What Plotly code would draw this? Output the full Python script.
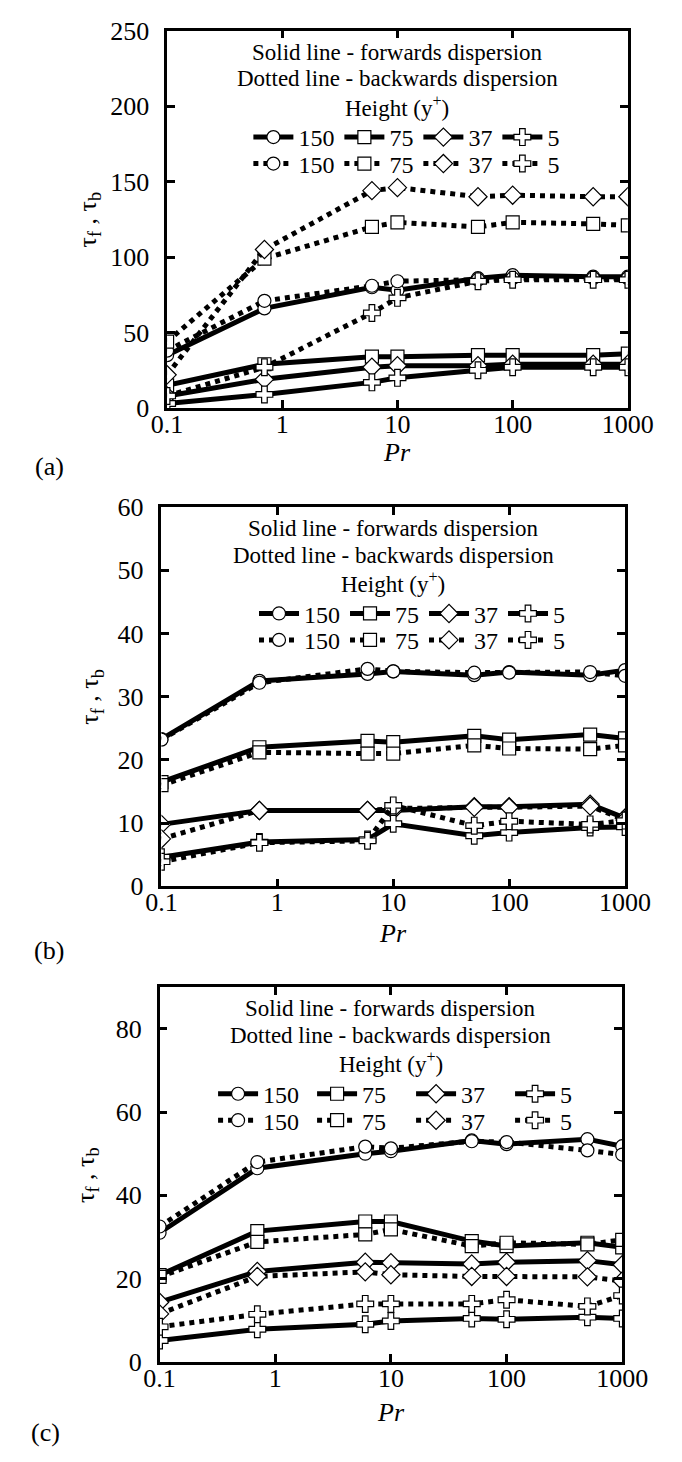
import plotly.graph_objects as go

# ---------------- data ----------------
PR = [0.1, 0.7, 6, 10, 50, 100, 500, 1000]
HEIGHTS = ["150", "75", "37", "5"]
X_TICKS = [0.1, 1, 10, 100, 1000]
X_TICKTEXT = ["0.1", "1", "10", "100", "1000"]

# panel (a)
a_fwd_150 = [35, 66, 80, 78, 86, 88, 87, 87]
a_fwd_75 = [15, 29, 34, 34, 35, 35, 35, 36]
a_fwd_37 = [8, 19, 27, 28, 28, 29, 29, 29]
a_fwd_5 = [3, 9, 17, 20, 25, 27, 27, 27]
a_bwd_150 = [38, 71, 81, 84, 85, 86, 86, 86]
a_bwd_75 = [44, 99, 120, 123, 120, 123, 122, 121]
a_bwd_37 = [22, 105, 144, 146, 140, 141, 140, 140]
a_bwd_5 = [8, 27, 63, 73, 84, 85, 85, 85]

# panel (b)
b_fwd_150 = [23.3, 32.5, 33.6, 34.0, 33.4, 33.9, 33.4, 34.2]
b_fwd_75 = [16.5, 22.0, 23.0, 22.8, 23.8, 23.2, 24.0, 23.4]
b_fwd_37 = [9.8, 12.0, 12.0, 12.0, 12.6, 12.6, 13.0, 10.8]
b_fwd_5 = [4.6, 7.0, 7.4, 9.9, 8.0, 8.5, 9.3, 9.4]
b_bwd_150 = [23.2, 32.2, 34.4, 34.0, 33.8, 33.8, 33.9, 33.3]
b_bwd_75 = [16.0, 21.2, 21.0, 21.0, 22.3, 21.8, 21.7, 22.3]
b_bwd_37 = [7.5, 12.0, 12.0, 12.3, 12.5, 12.5, 12.7, 10.5]
b_bwd_5 = [3.9, 6.9, 7.2, 12.8, 9.6, 10.3, 9.8, 10.4]

# panel (c)
c_fwd_150 = [31.0, 46.5, 50.0, 50.6, 53.2, 52.3, 53.5, 51.8]
c_fwd_75 = [20.8, 31.4, 33.7, 33.7, 29.0, 27.8, 28.6, 27.5]
c_fwd_37 = [14.3, 21.7, 23.9, 23.8, 23.5, 23.9, 24.3, 23.3]
c_fwd_5 = [5.1, 7.8, 9.0, 9.8, 10.4, 10.2, 10.7, 10.4]
c_bwd_150 = [32.5, 48.0, 51.7, 51.3, 53.0, 52.8, 50.8, 49.8]
c_bwd_75 = [20.4, 28.8, 30.6, 31.8, 27.8, 28.6, 28.2, 29.3]
c_bwd_37 = [11.5, 20.5, 21.6, 20.9, 20.5, 20.5, 20.4, 19.4]
c_bwd_5 = [8.4, 11.4, 13.9, 13.9, 13.9, 14.9, 13.3, 15.9]

# ---------------- styling ----------------
W, H = 682, 1462
FONT = "Liberation Serif"
SYMBOLS = ["circle", "square", "diamond", "cross"]
MSIZE = [13, 13, 14, 14]

# panel boxes in pixels: (left, right, top, bottom)
BOXES = [(161, 652, 17, 402), (155, 649, 503, 890), (153, 646, 993, 1375)]
YRANGES = [[0, 250], [0, 60], [0, 90]]
YTICKS = [[0, 50, 100, 150, 200, 250], [0, 10, 20, 30, 40, 50, 60], [0, 20, 40, 60, 80]]
PANEL_LABELS = ["(a)", "(b)", "(c)"]
PANEL_LABEL_POS = [(36, 462), (35, 955), (31, 1447)]
PR_TITLE_Y = [447, 938, 1427]
YTITLE_X = [78, 80, 75]
TEXT_OFFSETS = [22, 49, 77]      # px below top of box for the three text lines
LEGEND_OFFSETS = [109, 136]      # px below top of box for legend rows
LEGEND_CENTERS = [416, 422, 421]
LEGEND_ENTRYWIDTH = [0, 0, 44]

panels = [
    ([a_fwd_150, a_fwd_75, a_fwd_37, a_fwd_5], [a_bwd_150, a_bwd_75, a_bwd_37, a_bwd_5]),
    ([b_fwd_150, b_fwd_75, b_fwd_37, b_fwd_5], [b_bwd_150, b_bwd_75, b_bwd_37, b_bwd_5]),
    ([c_fwd_150, c_fwd_75, c_fwd_37, c_fwd_5], [c_bwd_150, c_bwd_75, c_bwd_37, c_bwd_5]),
]


def px_x(p):
    return p / W


def px_y(p):
    return 1 - p / H


fig = go.Figure()
layout = dict(
    width=W, height=H, autosize=False,
    margin=dict(l=0, r=0, t=0, b=0),
    paper_bgcolor="white", plot_bgcolor="white",
    font=dict(family=FONT, size=26, color="black"),
    showlegend=True,
)
annotations = []

for i, (fwd, bwd) in enumerate(panels):
    n = "" if i == 0 else str(i + 1)
    xa, ya = "x" + n, "y" + n
    leg_solid = "legend" if i == 0 else "legend" + str(2 * i + 1)
    leg_dot = "legend" + str(2 * i + 2)

    for k, h in enumerate(HEIGHTS):
        for vals, dash, leg in ((fwd[k], "solid", leg_solid), (bwd[k], "dot", leg_dot)):
            fig.add_trace(go.Scatter(
                x=PR, y=vals, xaxis=xa, yaxis=ya, name=h, legend=leg,
                mode="lines+markers",
                line=dict(color="black", width=5, dash=dash),
                marker=dict(symbol=SYMBOLS[k], size=MSIZE[k], color="white",
                            line=dict(color="black", width=1.2)),
                hoverinfo="x+y",
            ))

    l, r, t, b = BOXES[i]
    axis_common = dict(
        showline=True, linecolor="black", linewidth=2.5, mirror="ticks",
        ticks="inside", ticklen=8, tickwidth=3, tickcolor="black",
        showgrid=False, zeroline=False,
        tickfont=dict(family=FONT, size=26, color="black"),
    )
    layout["xaxis" + n] = dict(
        axis_common, type="log", range=[-1, 3], domain=[px_x(l), px_x(r)],
        anchor=ya, tickvals=X_TICKS, ticktext=X_TICKTEXT, ticklabelstandoff=-9,
    )
    layout["yaxis" + n] = dict(
        axis_common, range=YRANGES[i], domain=[px_y(b), px_y(t)],
        anchor=xa, tickvals=YTICKS[i], ticklabelstandoff=10,
    )

    cx = (l + r) / 2
    texts = ["Solid line - forwards dispersion",
             "Dotted line - backwards dispersion",
             "Height (y<sup>+</sup>)"]
    for txt, off in zip(texts, TEXT_OFFSETS):
        annotations.append(dict(
            text=txt, x=px_x(cx), y=px_y(t + off), xref="paper", yref="paper",
            xanchor="center", yanchor="middle", showarrow=False,
            font=dict(family=FONT, size=23, color="black"),
        ))
    # x-axis title
    annotations.append(dict(
        text="<i>Pr</i>", x=px_x(cx), y=px_y(PR_TITLE_Y[i]), xref="paper", yref="paper",
        xanchor="center", yanchor="middle", showarrow=False,
        font=dict(family=FONT, size=26, color="black"),
    ))
    # y-axis title
    annotations.append(dict(
        text="τ<sub>f</sub> , τ<sub>b</sub>", x=px_x(YTITLE_X[i]), y=px_y((t + b) / 2),
        xref="paper", yref="paper", xanchor="center", yanchor="middle",
        textangle=-90, showarrow=False, font=dict(family=FONT, size=26, color="black"),
    ))
    lx, lyy = PANEL_LABEL_POS[i]
    annotations.append(dict(
        text=PANEL_LABELS[i], x=px_x(lx), y=px_y(lyy), xref="paper", yref="paper",
        xanchor="center", yanchor="middle", showarrow=False,
        font=dict(family=FONT, size=26, color="black"),
    ))

    for leg, off in ((leg_solid, LEGEND_OFFSETS[0]), (leg_dot, LEGEND_OFFSETS[1])):
        legd = dict(
            orientation="h", x=px_x(LEGEND_CENTERS[i]), xanchor="center",
            y=px_y(t + off), yanchor="middle", bgcolor="rgba(0,0,0,0)",
            borderwidth=0, itemwidth=40, tracegroupgap=0,
            font=dict(family=FONT, size=24, color="black"),
            itemclick=False, itemdoubleclick=False,
        )
        if LEGEND_ENTRYWIDTH[i]:
            legd["entrywidth"] = LEGEND_ENTRYWIDTH[i]
            legd["entrywidthmode"] = "pixels"
        layout[leg] = legd

layout["annotations"] = annotations
fig.update_layout(**layout)
fig.write_html("out.html")
